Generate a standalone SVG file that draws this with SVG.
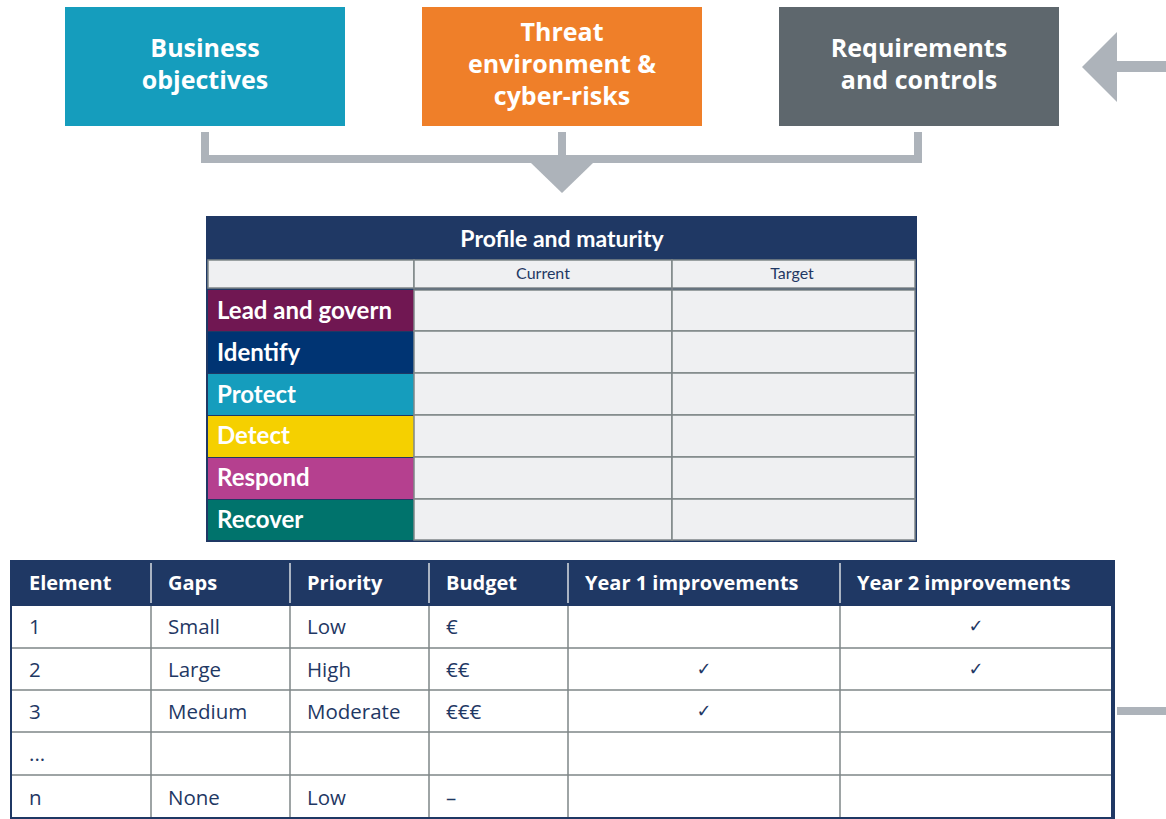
<svg xmlns="http://www.w3.org/2000/svg" width="1166" height="819" viewBox="0 0 1166 819">
<style>
.box{stroke:none}
.bt{font-family:"Open Sans","Noto Sans",sans-serif;font-weight:700;font-size:25px;fill:#fff;text-anchor:middle}
.conn{fill:#adb3ba;stroke:none}
.navy{fill:#1f3864}
.ttl{font-family:Lato,"Noto Sans",sans-serif;font-weight:700;font-size:23px;fill:#fff;text-anchor:middle}
.hdr{font-family:"Open Sans","Noto Sans",sans-serif;font-weight:700;font-size:20px;fill:#fff}
.sub{font-family:Lato,"Noto Sans",sans-serif;font-size:16px;fill:#1f3864;text-anchor:middle}
.cell{fill:#eff0f2;stroke:#7f8688;stroke-width:1.5}
.lbl{font-family:Lato,"Noto Sans",sans-serif;font-weight:700;font-size:24px;fill:#fff}
.body{font-family:"Open Sans","Noto Sans",sans-serif;font-size:20.5px;fill:#1f3864}
.chk{font-family:"DejaVu Sans",sans-serif;font-size:18px;fill:#1f3864;text-anchor:middle}
.grid{stroke:#7f8688;stroke-width:1.5;fill:none}
.hsep{stroke:#d8dce2;stroke-width:1.5}
</style>

<g id="business-objectives">
<rect class="box" x="65" y="7" width="280" height="119" fill="#159dbd"/>
<text class="bt" x="205" y="57">Business</text>
<text class="bt" x="205" y="89">objectives</text>
</g>

<g id="threat-environment">
<rect class="box" x="422" y="7" width="280" height="119" fill="#ef7f29"/>
<text class="bt" x="562" y="41">Threat</text>
<text class="bt" x="562" y="73">environment &amp;</text>
<text class="bt" x="562" y="105">cyber-risks</text>
</g>

<g id="requirements-controls">
<rect class="box" x="779" y="7" width="280" height="119" fill="#5e676d"/>
<text class="bt" x="919" y="57">Requirements</text>
<text class="bt" x="919" y="89">and controls</text>
</g>

<g id="connectors">
<rect class="conn" x="201" y="132" width="8" height="31"/>
<rect class="conn" x="558" y="132" width="8" height="31"/>
<rect class="conn" x="914" y="132" width="8" height="31"/>
<rect class="conn" x="201" y="155" width="721" height="8"/>
<polygon class="conn" points="531,163 593,163 562,193"/>
<polygon class="conn" points="1082,67 1117,32 1117,102"/>
<rect class="conn" x="1116" y="61" width="50" height="11"/>
<rect class="conn" x="1117" y="707" width="49" height="8"/>
</g>

<g id="profile-maturity">
<rect class="navy" x="206" y="216" width="711" height="326"/>
<text class="ttl" x="562" y="247">Profile and maturity</text>
<rect class="cell" x="208" y="260" width="206" height="28"/>
<rect class="cell" x="414" y="260" width="258" height="28"/>
<rect class="cell" x="672" y="260" width="243" height="28"/>
<text class="sub" x="543" y="279">Current</text>
<text class="sub" x="792" y="279">Target</text>
<g>
<rect x="208" y="290" width="206" height="41" fill="#701752"/>
<rect x="208" y="332" width="206" height="41" fill="#003473"/>
<rect x="208" y="374" width="206" height="41" fill="#159dbd"/>
<rect x="208" y="416" width="206" height="41" fill="#f5d000"/>
<rect x="208" y="458" width="206" height="41" fill="#b5408f"/>
<rect x="208" y="500" width="206" height="40" fill="#00736c"/>
</g>
<g>
<rect class="cell" x="414" y="290" width="258" height="41"/>
<rect class="cell" x="672" y="290" width="243" height="41"/>
<rect class="cell" x="414" y="331" width="258" height="42"/>
<rect class="cell" x="672" y="331" width="243" height="42"/>
<rect class="cell" x="414" y="373" width="258" height="42"/>
<rect class="cell" x="672" y="373" width="243" height="42"/>
<rect class="cell" x="414" y="415" width="258" height="42"/>
<rect class="cell" x="672" y="415" width="243" height="42"/>
<rect class="cell" x="414" y="457" width="258" height="42"/>
<rect class="cell" x="672" y="457" width="243" height="42"/>
<rect class="cell" x="414" y="499" width="258" height="41"/>
<rect class="cell" x="672" y="499" width="243" height="41"/>
</g>
<text class="lbl" x="217" y="319">Lead and govern</text>
<text class="lbl" x="217" y="361">Identify</text>
<text class="lbl" x="217" y="403">Protect</text>
<text class="lbl" x="217" y="444">Detect</text>
<text class="lbl" x="217" y="486">Respond</text>
<text class="lbl" x="217" y="528">Recover</text>
</g>

<g id="improvement-plan">
<rect class="navy" x="10" y="560" width="1105" height="259"/>
<rect x="12" y="606" width="1099" height="211" fill="#fff"/>
<line class="hsep" x1="151" y1="563" x2="151" y2="603"/>
<line class="hsep" x1="290" y1="563" x2="290" y2="603"/>
<line class="hsep" x1="429" y1="563" x2="429" y2="603"/>
<line class="hsep" x1="568" y1="563" x2="568" y2="603"/>
<line class="hsep" x1="840" y1="563" x2="840" y2="603"/>
<text class="hdr" x="29" y="590">Element</text>
<text class="hdr" x="168" y="590">Gaps</text>
<text class="hdr" x="307" y="590">Priority</text>
<text class="hdr" x="446" y="590">Budget</text>
<text class="hdr" x="585" y="590">Year 1 improvements</text>
<text class="hdr" x="857" y="590">Year 2 improvements</text>
<path class="grid" d="M12 648H1111M12 690H1111M12 732H1111M12 775H1111M151 606V817M290 606V817M429 606V817M568 606V817M840 606V817"/>
<text class="body" x="29" y="634">1</text>
<text class="body" x="168" y="634">Small</text>
<text class="body" x="307" y="634">Low</text>
<text class="body" x="446" y="634">€</text>
<text class="chk" x="976" y="632">✓</text>
<text class="body" x="29" y="677">2</text>
<text class="body" x="168" y="677">Large</text>
<text class="body" x="307" y="677">High</text>
<text class="body" x="446" y="677">€€</text>
<text class="chk" x="704" y="675">✓</text>
<text class="chk" x="976" y="675">✓</text>
<text class="body" x="29" y="719">3</text>
<text class="body" x="168" y="719">Medium</text>
<text class="body" x="307" y="719">Moderate</text>
<text class="body" x="446" y="719">€€€</text>
<text class="chk" x="704" y="717">✓</text>
<text class="body" x="29" y="761">...</text>
<text class="body" x="29" y="805">n</text>
<text class="body" x="168" y="805">None</text>
<text class="body" x="307" y="805">Low</text>
<text class="body" x="446" y="805">–</text>
</g>
</svg>
